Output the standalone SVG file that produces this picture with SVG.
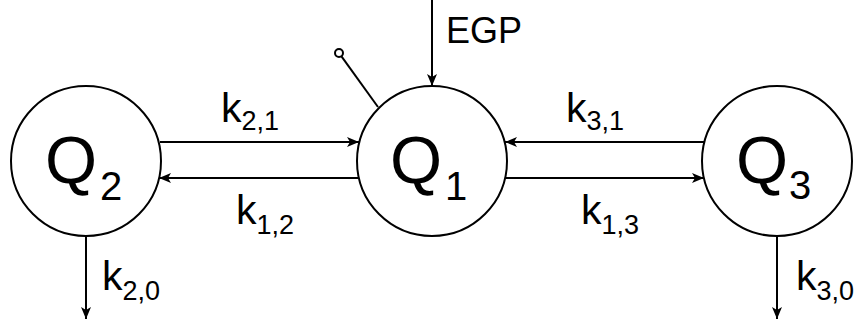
<svg xmlns="http://www.w3.org/2000/svg" width="859" height="325" viewBox="0 0 859 325">
<style>
.node{fill:#fff;stroke:#000;stroke-width:2}
.edge{fill:none;stroke:#000;stroke-width:2}
text{font-family:"Liberation Sans",Arial,Helvetica,sans-serif;fill:#000}
.q{font-size:67px}
.qs{font-size:40px}
.k{font-size:41px}
.ks{font-size:27px}
</style>
<defs>
<marker id="arr" markerUnits="userSpaceOnUse" markerWidth="12" markerHeight="10" refX="12" refY="5" orient="auto">
<path d="M0,0 L12,5 L0,10 L3,5 Z" fill="#000"/>
</marker>
</defs>
<rect width="859" height="325" fill="#fff"/>
<g id="connectors">
<line class="edge" x1="160" y1="142" x2="359" y2="142" marker-end="url(#arr)"/>
<line class="edge" x1="359" y1="178" x2="159" y2="178" marker-end="url(#arr)"/>
<line class="edge" x1="704" y1="142" x2="505" y2="142" marker-end="url(#arr)"/>
<line class="edge" x1="505" y1="178" x2="704" y2="178" marker-end="url(#arr)"/>
<line class="edge" x1="86" y1="236" x2="86" y2="319" marker-end="url(#arr)"/>
<line class="edge" x1="777" y1="236" x2="777" y2="319" marker-end="url(#arr)"/>
<line class="edge" x1="432" y1="0" x2="432" y2="86" marker-end="url(#arr)"/>
<line class="edge" x1="378" y1="107" x2="341.3" y2="56.2"/>
<circle class="edge" cx="339" cy="53" r="4" stroke-width="1.8"/>
<text class="k" x="221" y="122">k<tspan class="ks" dy="8">2,1</tspan></text>
<text class="k" x="236" y="224">k<tspan class="ks" dy="10">1,2</tspan></text>
<text class="k" x="566" y="122">k<tspan class="ks" dy="8">3,1</tspan></text>
<text class="k" x="581" y="224">k<tspan class="ks" dy="10">1,3</tspan></text>
<text class="k" x="102" y="290">k<tspan class="ks" dy="10">2,0</tspan></text>
<text class="k" x="796" y="290">k<tspan class="ks" dy="10">3,0</tspan></text>
<text x="446" y="43" font-size="36">EGP</text>
</g>
<g id="Q2">
<circle class="node" cx="86" cy="161" r="75"/>
<text class="q" x="45" y="183">Q</text>
<text class="qs" x="100" y="200">2</text>
</g>
<g id="Q1">
<circle class="node" cx="432" cy="161" r="75"/>
<text class="q" x="390" y="183">Q</text>
<text class="qs" x="445" y="200">1</text>
</g>
<g id="Q3">
<circle class="node" cx="777" cy="161" r="75"/>
<text class="q" x="736" y="183">Q</text>
<text class="qs" x="789" y="199">3</text>
</g>
</svg>
